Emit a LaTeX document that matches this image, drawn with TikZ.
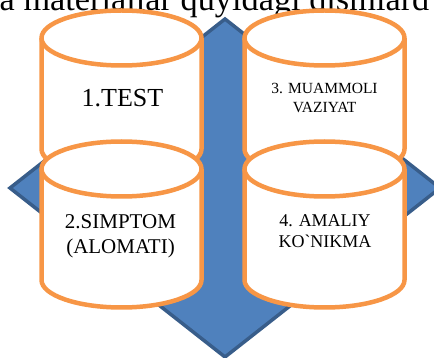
\documentclass[tikz,border=0pt]{standalone}
\usepackage{fontspec}
\setmainfont{Liberation Serif}[Ligatures=TeXOff]
\definecolor{cylorange}{HTML}{F79646}
\definecolor{dmfill}{HTML}{4F81BD}
\definecolor{dmedge}{HTML}{385D8A}
\tikzset{
  cylline/.style={draw=cylorange, line width=4.5pt, line join=round},
  dmstyle/.style={fill=dmfill, draw=dmedge, line width=3.5pt, line join=miter},
  lbl/.style={align=center, inner sep=0pt, anchor=base, text=black},
}
\newcommand\mycylinder[3]{%
  \fill[white] (#1-80,#2) -- (#1-80,#3) arc[start angle=180,end angle=360,x radius=80,y radius=27.5]
     -- (#1+80,#2) arc[start angle=0,end angle=180,x radius=80,y radius=27.5] -- cycle;
  \draw[cylline] (#1-80,#2) -- (#1-80,#3) arc[start angle=180,end angle=360,x radius=80,y radius=27.5]
     -- (#1+80,#2);
  \draw[cylline] (#1,#2) ellipse[x radius=80,y radius=27.5];
}
\begin{document}
\begin{tikzpicture}[x=1pt,y=1pt]
\useasboundingbox (0,0) rectangle (434,-358);
% header text (cut off at the top)
\node[anchor=base west, inner sep=0pt, font=\fontsize{34.3}{40}\selectfont] (hdr) at (-0.5,-11) {a materiallar quyidagi qismlard};
% diamond
\coordinate (dtop) at (225,-19);
\coordinate (dright) at (440,-188);
\coordinate (dbottom) at (225,-357);
\coordinate (dleft) at (10,-188);
\path[dmstyle] (dtop) -- (dright) -- (dbottom) -- (dleft) -- cycle;
% cylinders
\mycylinder{121.5}{-38}{-149}
\mycylinder{324.5}{-38}{-149}
\mycylinder{121.5}{-169}{-280}
\mycylinder{324.5}{-169}{-280}
% labels (base anchor = baseline of the last line)
\node[lbl, font=\fontsize{26}{30}\selectfont] (t1) at (122.5,-107) {1.TEST};
\node[lbl, font=\fontsize{15.5}{19.5}\selectfont] (t3) at (324.5,-113) {3. MUAMMOLI\\VAZIYAT};
\node[lbl, font=\fontsize{21}{25.5}\selectfont] (t2) at (120.5,-254) {2.SIMPTOM\\(ALOMATI)};
\node[lbl, font=\fontsize{18}{21}\selectfont] (t4) at (325,-248) {4. AMALIY\\KO`NIKMA};
\end{tikzpicture}
\end{document}
